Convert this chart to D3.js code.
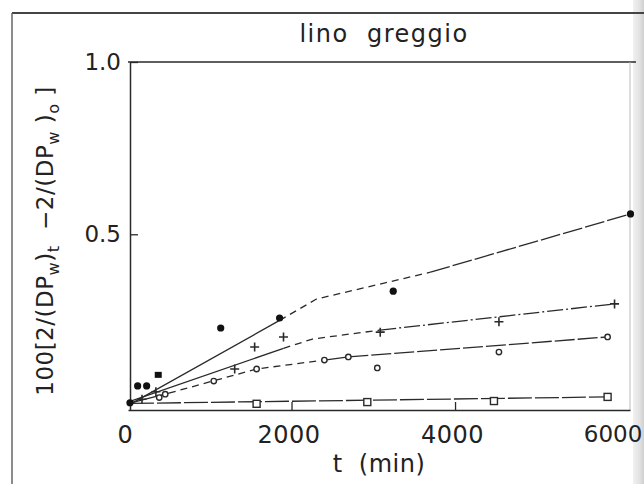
<!DOCTYPE html>
<html>
<head>
<meta charset="utf-8">
<script src="https://cdn.jsdelivr.net/npm/d3@7"></script>
<style>
  body { margin: 0; background: #fff; }
  svg text { font-family: 'DejaVu Sans', sans-serif; fill: #222; }
</style>
</head>
<body>
<svg id="chart" width="644" height="484"></svg>
<script>
/* values, t in minutes */
const xTicks = [0, 2000, 4000, 6000]
const yTicks = [0.5, 1.0]

// filled circles
const circT = [24, 118, 228, 1134, 1854, 3244, 6146]
const circV = [0.011, 0.060, 0.060, 0.228, 0.257, 0.335, 0.559]
// filled square (one point)
const fsqT = [370]
const fsqV = [0.092]
// plus signs
const plusT = [171, 341, 1305, 1549, 1902, 3085, 4537, 5951]
const plusV = [0.021, 0.043, 0.109, 0.173, 0.202, 0.216, 0.246, 0.298]
// small open circles
const ringT = [382, 455, 1049, 1573, 2402, 2695, 3049, 4537, 5866]
const ringV = [0.026, 0.036, 0.074, 0.109, 0.135, 0.144, 0.112, 0.158, 0.202]
// open squares
const sqT = [1573, 2927, 4476, 5866]
const sqV = [0.008, 0.013, 0.016, 0.028]

// fitted lines, as pieces [t, v] with a dash style each
const fit1 = [
  { dash: null, pts: [[12, 0.005], [1854, 0.25]] },
  { dash: '7,5', pts: [[1854, 0.25], [2305, 0.312], [3700, 0.39]] },
  { dash: '20,3', pts: [[3700, 0.39], [6146, 0.559]] }
]
const fit2 = [
  { dash: null, pts: [[16, 0.014], [1902, 0.169]] },
  { dash: '7,5', pts: [[1902, 0.169], [2256, 0.196], [3085, 0.222]] },
  { dash: '16,3,2,3', pts: [[3085, 0.222], [5951, 0.298]] }
]
const fit3 = [
  { dash: null, pts: [[24, 0.010], [500, 0.039]] },
  { dash: '7,5', pts: [[500, 0.039], [1573, 0.109], [2402, 0.135]] },
  { dash: null, pts: [[2402, 0.135], [2695, 0.144]] },
  { dash: '20,3', pts: [[2695, 0.144], [5866, 0.202]] }
]
const fit4 = [
  { dash: '24,3', pts: [[24, 0.009], [5866, 0.028]] }
]

const svg = d3.select('#chart')
const ink = '#2a2a2a'

const x = d3.scaleLinear().domain([0, 6140]).range([128, 630])
const y = d3.scaleLinear().domain([-0.01, 1.0]).range([410, 62])

/* scan frame: light strip on the right, outer rule lines */
const grad = svg.append('defs').append('linearGradient').attr('id', 'strip')
grad.append('stop').attr('offset', '0%').attr('stop-color', '#f1f1f1')
grad.append('stop').attr('offset', '60%').attr('stop-color', '#e2e2e2')
grad.append('stop').attr('offset', '100%').attr('stop-color', '#cfcfcf')
svg.append('rect').attr('x', 633).attr('y', 0).attr('width', 11).attr('height', 484)
  .attr('fill', 'url(#strip)')
svg.append('line').attr('x1', 12).attr('x2', 644).attr('y1', 13).attr('y2', 13)
  .attr('stroke', '#444').attr('stroke-width', 2)
svg.append('line').attr('x1', 12).attr('x2', 12).attr('y1', 13).attr('y2', 484)
  .attr('stroke', '#666').attr('stroke-width', 1.5)

/* plot box: top border and faint right border */
svg.append('line').attr('x1', x.range()[0]).attr('x2', 636).attr('y1', y(1)).attr('y2', y(1))
  .attr('stroke', ink).attr('stroke-width', 1.5)
svg.append('line').attr('x1', x.range()[1]).attr('x2', x.range()[1]).attr('y1', y(1)).attr('y2', y.range()[0])
  .attr('stroke', '#bbb').attr('stroke-width', 1)

/* axes */
const xAxis = svg.append('g')
  .attr('transform', `translate(0,${y.range()[0]})`)
  .call(d3.axisBottom(x).tickValues(xTicks).tickSizeInner(-8).tickSizeOuter(0).tickPadding(16).tickFormat(d3.format('d')))
xAxis.select('.domain').attr('stroke', ink).attr('stroke-width', 1.5)
xAxis.selectAll('.tick line').attr('stroke', ink).attr('stroke-width', 1.3)
  .attr('display', d => (d === 2000 || d === 4000) ? null : 'none')
xAxis.selectAll('.tick text').attr('font-size', 24).attr('fill', ink)
  .attr('font-family', 'DejaVu Sans').attr('dx', -3).attr('letter-spacing', 0.5)
// last label sits against the scan edge, as in the original
xAxis.selectAll('.tick text').filter(d => d === 6000)
  .attr('font-size', 23).attr('letter-spacing', 0).attr('dx', -6)

const yAxis = svg.append('g')
  .attr('transform', `translate(${x.range()[0] + 2},0)`)
  .call(d3.axisLeft(y).tickValues(yTicks).tickSizeInner(-8).tickSizeOuter(0).tickPadding(9).tickFormat(d3.format('.1f')))
yAxis.select('.domain').attr('stroke', ink).attr('stroke-width', 1.5)
yAxis.selectAll('.tick line').attr('stroke', ink).attr('stroke-width', 1.3)
yAxis.selectAll('.tick text').attr('font-size', 23).attr('fill', ink).attr('font-family', 'DejaVu Sans')

/* fitted lines */
const line = d3.line().x(d => x(d[0])).y(d => y(d[1]))
for (const fit of [fit1, fit2, fit3, fit4]) {
  svg.append('g').selectAll('path').data(fit).enter().append('path')
    .attr('d', p => line(p.pts))
    .attr('fill', 'none')
    .attr('stroke', ink)
    .attr('stroke-width', 1.3)
    .attr('stroke-dasharray', p => p.dash)
}

/* markers */
const zip = (ts, vs) => ts.map((t, i) => [t, vs[i]])

svg.append('g').selectAll('rect').data(zip(sqT, sqV)).enter().append('rect')
  .attr('x', d => x(d[0]) - 3.5).attr('y', d => y(d[1]) - 3.5)
  .attr('width', 7).attr('height', 7)
  .attr('fill', '#fff').attr('stroke', ink).attr('stroke-width', 1.4)

svg.append('g').selectAll('circle').data(zip(ringT, ringV)).enter().append('circle')
  .attr('cx', d => x(d[0])).attr('cy', d => y(d[1])).attr('r', 2.7)
  .attr('fill', '#fff').attr('stroke', ink).attr('stroke-width', 1.4)

svg.append('g').selectAll('path').data(zip(plusT, plusV)).enter().append('path')
  .attr('d', d => `M${x(d[0]) - 4.5},${y(d[1])}h9M${x(d[0])},${y(d[1]) - 4.5}v9`)
  .attr('stroke', ink).attr('stroke-width', 1.6)

svg.append('g').selectAll('circle').data(zip(circT, circV)).enter().append('circle')
  .attr('cx', d => x(d[0])).attr('cy', d => y(d[1])).attr('r', 3.6)
  .attr('fill', '#111')

svg.append('g').selectAll('rect').data(zip(fsqT, fsqV)).enter().append('rect')
  .attr('x', d => x(d[0]) - 3.5).attr('y', d => y(d[1]) - 3)
  .attr('width', 7).attr('height', 6)
  .attr('fill', '#111')

/* title and axis titles */
svg.append('text').attr('x', 384).attr('y', 42)
  .attr('text-anchor', 'middle').attr('font-size', 24).attr('letter-spacing', 1.5)
  .attr('xml:space', 'preserve')
  .text('lino  greggio')

svg.append('text').attr('x', 379).attr('y', 472)
  .attr('text-anchor', 'middle').attr('font-size', 24).attr('letter-spacing', 0.5)
  .attr('xml:space', 'preserve')
  .text('t  (min)')

const yl = svg.append('text')
  .attr('transform', 'translate(53,241) rotate(-90)')
  .attr('text-anchor', 'middle').attr('font-size', 23).attr('letter-spacing', 0.5)
  .attr('xml:space', 'preserve')
const parts = [
  ['100[2/(DP', 0], ['w', 1], [')', 0], ['t', 1],
  ['  \u22122/(DP', 0], ['w', 1], [' )', 0], ['o', 1], [' ]', 0]
]
let level = 0
for (const [s, sub] of parts) {
  const dy = sub === level ? 0 : (sub ? 6 : -6)
  yl.append('tspan').attr('dy', dy).attr('font-size', sub ? 16 : 23).text(s)
  level = sub
}
</script>
</body>
</html>
